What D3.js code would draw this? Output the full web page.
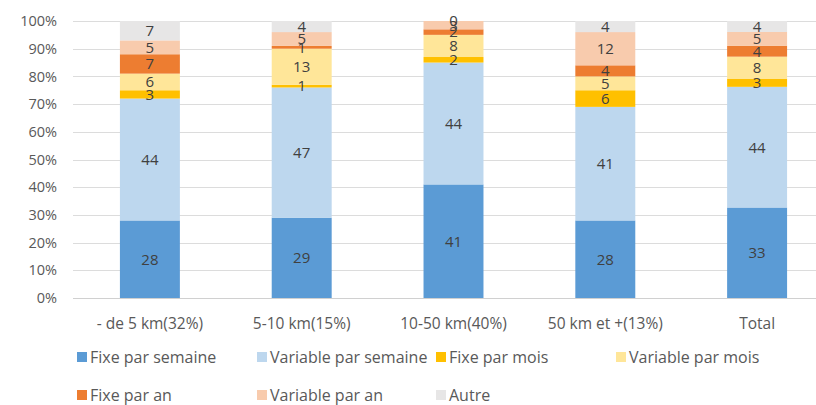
<!DOCTYPE html>
<html><head><meta charset="utf-8">
<script src="https://cdn.jsdelivr.net/npm/d3@7"></script>
<style>body{margin:0;background:#fff;} svg{display:block;}</style>
</head><body>
<svg id="c" width="816" height="405"></svg>
<script>
const categories = ["- de 5 km(32%)", "5-10 km(15%)", "10-50 km(40%)", "50 km et +(13%)", "Total"];
const seriesNames = ["Fixe par semaine", "Variable par semaine", "Fixe par mois", "Variable par mois", "Fixe par an", "Variable par an", "Autre"];
const fixeSemaine = [28, 29, 41, 28, 33];
const variableSemaine = [44, 47, 44, 41, 44];
const fixeMois = [3, 1, 2, 6, 3];
const variableMois = [6, 13, 8, 5, 8];
const fixeAn = [7, 1, 2, 4, 4];
const variableAn = [5, 5, 3, 12, 5];
const autre = [7, 4, 0, 4, 4];
const yTicks = [0, 0.1, 0.2, 0.3, 0.4, 0.5, 0.6, 0.7, 0.8, 0.9, 1];
const colors = ["#5B9BD5", "#BDD7EE", "#FFC000", "#FFE699", "#ED7D31", "#F8CBAD", "#E7E6E6"];

const seriesValues = [fixeSemaine, variableSemaine, fixeMois, variableMois, fixeAn, variableAn, autre];
const rows = categories.map((c, i) => {
  const r = {cat: c};
  seriesNames.forEach((s, j) => r[s] = seriesValues[j][i]);
  return r;
});
const stacked = d3.stack().keys(seriesNames).offset(d3.stackOffsetExpand)(rows);

const svg = d3.select("#c");
const font = "'Open Sans', 'DejaVu Sans', sans-serif";
const x = d3.scaleBand().domain(categories).range([74, 833]).paddingInner(0.605).paddingOuter(0.3025);
const y = d3.scaleLinear().domain([0, 1]).range([298, 21]);

// gridlines
svg.append("g").selectAll("line").data(yTicks).join("line")
  .attr("x1", 73).attr("x2", 816)
  .attr("y1", d => Math.round(y(d)) + 0.5).attr("y2", d => Math.round(y(d)) + 0.5)
  .attr("stroke", d => d === 0 ? "#d0d0d0" : "#dcdcdc").attr("stroke-width", 1);

// y axis labels
const yAxis = d3.axisLeft(y).tickValues(yTicks).tickFormat(d3.format(".0%")).tickSize(0).tickPadding(0);
const ya = svg.append("g").attr("transform", "translate(57,0)").call(yAxis);
ya.select(".domain").remove();
ya.selectAll("text").attr("font-family", font).attr("font-size", 14.5).attr("fill", "#595959");

// bars
const g = svg.append("g");
stacked.forEach((s, j) => {
  g.append("g").selectAll("rect").data(s).join("rect")
    .attr("x", d => x(d.data.cat))
    .attr("width", x.bandwidth())
    .attr("y", d => y(d[1]))
    .attr("height", d => y(d[0]) - y(d[1]))
    .attr("fill", colors[j]);
});
// labels
stacked.forEach((s, j) => {
  g.append("g").selectAll("text").data(s).join("text")
    .attr("x", d => x(d.data.cat) + x.bandwidth() / 2)
    .attr("y", d => (y(d[0]) + y(d[1])) / 2)
    .attr("dy", "0.36em")
    .attr("text-anchor", "middle")
    .attr("font-family", font).attr("font-size", 15)
    .attr("fill", "#404040")
    .text(d => d.data[s.key]);
});

// x axis labels
const xAxis = d3.axisBottom(x).tickSize(0).tickPadding(0);
const xa = svg.append("g").attr("transform", "translate(0,323)").call(xAxis);
xa.select(".domain").remove();
xa.selectAll("text").attr("font-family", font).attr("font-size", 15.5).attr("fill", "#595959")
  .attr("y", 0).attr("dy", "0.36em");

// legend
const legPos = [[77, 357], [257, 357], [436, 357], [616, 357], [77, 395], [257, 395], [436, 395]];
const lg = svg.append("g").selectAll("g").data(seriesNames).join("g")
  .attr("transform", (d, i) => `translate(${legPos[i][0]},${legPos[i][1]})`);
lg.append("rect").attr("x", 0).attr("y", -5).attr("width", 10).attr("height", 10).attr("fill", (d, i) => colors[i]);
lg.append("text").attr("x", 13).attr("y", 0).attr("dy", "0.36em")
  .attr("font-family", font).attr("font-size", 16).attr("fill", "#595959").text(d => d);
</script>
</body></html>
